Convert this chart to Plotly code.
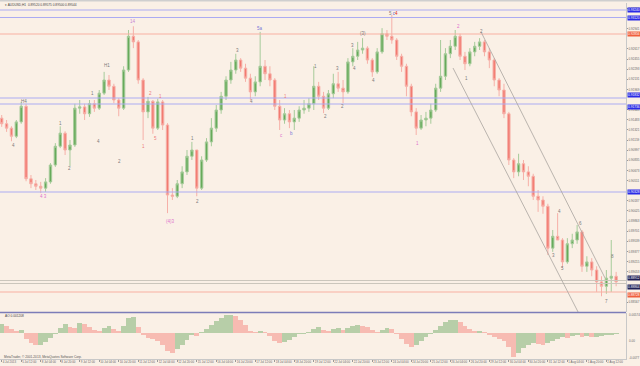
import plotly.graph_objects as go

# ---------------- data ----------------
# 4-hour bars, x = trading-hour index counted from 4 Jul 2013 20:00 (weekends skipped)
bar_hour = list(range(0, 508, 4))

bar_open = [0.9151,0.9142,0.9135,0.9122,0.9145,0.9170,0.9054,0.9046,0.9042,0.9039,
 0.9049,0.9076,0.9106,0.9127,0.9100,0.9108,0.9167,0.9169,0.9158,0.9174,
 0.9167,0.9191,0.9212,0.9202,0.9180,0.9167,0.9228,0.9282,0.9273,0.9212,
 0.9161,0.9178,0.9135,0.9177,0.9140,0.9028,0.9026,0.9046,0.9065,0.9090,
 0.9100,0.9039,0.9084,0.9113,0.9135,0.9164,0.9186,0.9212,0.9228,0.9244,
 0.9231,0.9215,0.9193,0.9209,0.9234,0.9222,0.9212,0.9170,0.9148,0.9158,
 0.9145,0.9151,0.9164,0.9167,0.9174,0.9202,0.9186,0.9167,0.9190,0.9206,
 0.9199,0.9193,0.9241,0.9250,0.9260,0.9263,0.9244,0.9225,0.9257,0.9286,
 0.9282,0.9276,0.9250,0.9234,0.9202,0.9161,0.9135,0.9148,0.9151,0.9164,
 0.9199,0.9218,0.9254,0.9266,0.9282,0.9250,0.9238,0.9257,0.9266,0.9273,
 0.9257,0.9244,0.9212,0.9196,0.9158,0.9084,0.9065,0.9078,0.9065,0.9058,
 0.9026,0.9020,0.9010,0.8943,0.8962,0.8956,0.8921,0.8950,0.8956,0.8969,
 0.8914,0.8921,0.8908,0.8889,0.8882,0.8895,0.8898]

bar_high = [0.9156,0.9148,0.9138,0.9148,0.9177,0.9174,0.9060,0.9052,0.9049,0.9055,
 0.9079,0.9111,0.9138,0.9130,0.9116,0.9174,0.9180,0.9174,0.9180,0.9180,
 0.9196,0.9225,0.9220,0.9206,0.9183,0.9234,0.9292,0.9298,0.9276,0.9215,
 0.9185,0.9180,0.9182,0.9180,0.9143,0.9039,0.9052,0.9074,0.9100,0.9113,
 0.9100,0.9090,0.9119,0.9151,0.9172,0.9193,0.9218,0.9241,0.9254,0.9247,
 0.9238,0.9222,0.9218,0.9289,0.9244,0.9234,0.9215,0.9180,0.9167,0.9164,
 0.9164,0.9170,0.9180,0.9183,0.9234,0.9209,0.9193,0.9196,0.9222,0.9225,
 0.9212,0.9247,0.9263,0.9273,0.9279,0.9266,0.9247,0.9263,0.9295,0.9292,
 0.9316,0.9279,0.9254,0.9238,0.9206,0.9167,0.9156,0.9161,0.9174,0.9206,
 0.9276,0.9263,0.9276,0.9292,0.9286,0.9257,0.9263,0.9273,0.9279,0.9276,
 0.9263,0.9247,0.9215,0.9206,0.9161,0.9087,0.9094,0.9084,0.9074,0.9062,
 0.9036,0.9026,0.9014,0.8972,0.8999,0.8959,0.8959,0.8966,0.8980,0.8972,
 0.8930,0.8927,0.8914,0.8898,0.8908,0.8956,0.8905]

bar_low = [0.9137,0.9129,0.9114,0.9119,0.9142,0.9050,0.9039,0.9036,0.9031,0.9033,
 0.9046,0.9073,0.9103,0.9092,0.9074,0.9105,0.9158,0.9148,0.9153,0.9161,
 0.9164,0.9188,0.9196,0.9175,0.9154,0.9164,0.9225,0.9263,0.9206,0.9116,
 0.9151,0.9126,0.9132,0.9132,0.8999,0.9020,0.9023,0.9039,0.9060,0.9084,
 0.9026,0.9036,0.9081,0.9106,0.9129,0.9158,0.9180,0.9206,0.9222,0.9225,
 0.9209,0.9180,0.9186,0.9202,0.9212,0.9202,0.9164,0.9132,0.9142,0.9135,
 0.9132,0.9145,0.9158,0.9161,0.9164,0.9180,0.9159,0.9164,0.9183,0.9193,
 0.9175,0.9190,0.9234,0.9244,0.9254,0.9238,0.9217,0.9222,0.9254,0.9276,
 0.9270,0.9244,0.9225,0.9186,0.9154,0.9124,0.9132,0.9138,0.9142,0.9161,
 0.9193,0.9212,0.9247,0.9260,0.9244,0.9228,0.9234,0.9250,0.9260,0.9250,
 0.9231,0.9202,0.9186,0.9151,0.9076,0.9055,0.9058,0.9052,0.9042,0.9020,
 0.9001,0.8998,0.8932,0.8937,0.8956,0.8911,0.8918,0.8943,0.8950,0.8905,
 0.8905,0.8898,0.8873,0.8866,0.8870,0.8873,0.8882]

bar_close = [0.9142,0.9135,0.9122,0.9145,0.9170,0.9054,0.9046,0.9042,0.9039,0.9049,
 0.9076,0.9106,0.9127,0.9100,0.9108,0.9167,0.9169,0.9158,0.9174,0.9167,
 0.9191,0.9212,0.9202,0.9180,0.9167,0.9228,0.9282,0.9273,0.9212,0.9161,
 0.9178,0.9135,0.9177,0.9140,0.9028,0.9026,0.9046,0.9065,0.9090,0.9100,
 0.9039,0.9084,0.9113,0.9135,0.9164,0.9186,0.9212,0.9228,0.9244,0.9231,
 0.9215,0.9193,0.9209,0.9234,0.9222,0.9212,0.9170,0.9148,0.9158,0.9145,
 0.9151,0.9164,0.9167,0.9174,0.9202,0.9186,0.9167,0.9190,0.9206,0.9199,
 0.9193,0.9241,0.9250,0.9260,0.9263,0.9244,0.9225,0.9257,0.9286,0.9282,
 0.9276,0.9250,0.9234,0.9202,0.9161,0.9135,0.9148,0.9151,0.9164,0.9199,
 0.9218,0.9254,0.9266,0.9282,0.9250,0.9238,0.9257,0.9266,0.9273,0.9257,
 0.9244,0.9212,0.9196,0.9158,0.9084,0.9065,0.9078,0.9065,0.9058,0.9026,
 0.9020,0.9010,0.8943,0.8962,0.8956,0.8921,0.8950,0.8956,0.8969,0.8914,
 0.8921,0.8908,0.8889,0.8882,0.8895,0.8898,0.8889]

# Awesome Oscillator values
ao_values = [0.0027,0.0021,0.0012,0.0006,0.0009,-0.0018,-0.0030,-0.0036,-0.0036,-0.0027,
 -0.0015,-0.0003,0.0015,0.0027,0.0018,0.0015,0.0030,0.0027,0.0018,0.0009,
 0.0006,0.0015,0.0021,0.0012,0.0006,0.0021,0.0045,0.0048,0.0018,-0.0006,
 -0.0015,-0.0018,-0.0024,-0.0036,-0.0054,-0.0060,-0.0048,-0.0036,-0.0021,-0.0006,
 -0.0009,0.0003,0.0012,0.0024,0.0036,0.0045,0.0054,0.0054,0.0051,0.0039,
 0.0024,0.0006,0.0003,0.0006,0.0003,-0.0009,-0.0024,-0.0030,-0.0027,-0.0021,
 -0.0012,-0.0003,-0.0003,0.0003,0.0012,0.0018,0.0009,0.0006,0.0012,0.0015,
 0.0009,0.0015,0.0021,0.0024,0.0021,0.0018,0.0009,0.0003,0.0009,0.0015,
 0.0012,-0.0003,-0.0018,-0.0033,-0.0042,-0.0036,-0.0024,-0.0012,-0.0003,0.0009,
 0.0021,0.0033,0.0039,0.0039,0.0033,0.0021,0.0012,0.0006,0.0006,0.0003,
 -0.0006,-0.0012,-0.0018,-0.0024,-0.0042,-0.0072,-0.0060,-0.0045,-0.0036,-0.0030,
 -0.0033,-0.0036,-0.0030,-0.0024,-0.0018,-0.0012,-0.0015,-0.0009,-0.0006,-0.0012,
 -0.0009,-0.0012,-0.0012,-0.0009,-0.0006,-0.0006,-0.0003]

# time axis labels (every 16 H1 bars)
time_tick_hours = list(range(0, 512, 16))
time_tick_labels = ["4 Jul 2013","5 Jul 12:00","8 Jul 04:00","8 Jul 20:00","9 Jul 12:00",
 "10 Jul 04:00","10 Jul 20:00","11 Jul 12:00","12 Jul 04:00","12 Jul 20:00","15 Jul 12:00",
 "16 Jul 04:00","16 Jul 20:00","17 Jul 12:00","18 Jul 04:00","18 Jul 20:00","19 Jul 12:00",
 "22 Jul 04:00","22 Jul 20:00","23 Jul 12:00","24 Jul 04:00","24 Jul 20:00","25 Jul 12:00",
 "26 Jul 04:00","26 Jul 20:00","29 Jul 12:00","30 Jul 04:00","30 Jul 20:00","31 Jul 12:00",
 "1 Aug 04:00","1 Aug 20:00","2 Aug 12:00"]

# price scale labels (those hidden behind level tags are left out)
price_ticks = [0.93265,0.92941,0.92617,0.92455,0.92293,0.92131,0.91969,
 0.91645,0.91483,0.91321,0.91159,0.90997,0.90835,0.90673,0.90511,0.90187,
 0.90025,0.89863,0.89701,0.89539,0.89377,0.89215,0.89053,0.88567,0.88405]

# AO scale labels
ao_scale_text = ["0.00574", "0.00", "-0.0077"]
ao_scale_pos = [0.125, 0.0506, 0.003]

# horizontal price levels
level_prices = [0.93240, 0.93120, 0.92856, 0.91832, 0.91736, 0.90328, 0.88912, 0.88864, 0.88728]
level_kinds  = ["blue", "blue", "red", "blue", "blue", "blue", "gray", "gray", "red"]
level_anchor = ["middle", "middle", "middle", "bottom", "top", "middle", "bottom", "top", "top"]

# channel (trend) lines: (hour, price) end points
channel_upper = [(393.2, 0.92888), (494.9, 0.88952)]
channel_lower = [(370.2, 0.92312), (472.8, 0.88408)]

# wave labels
wave_text = ["4","H4","4 3","1","2","1","H1","4","2","14","2","1","1","5","(4)3","1","2",
             "3","4","5a","1","c","b","1","2","3","2","3","4","(3)","4","5 c4",
             "1","2","1","2","3","4","5","6","7","8"]
wave_hour = [9.3,18.3,33.9,48.6,55.2,74.1,86.4,79.8,97.0,107.7,121.7,129.9,116.7,125.8,138.1,156.1,161.0,
             193.8,205.3,211.9,232.4,229.1,238.1,257.8,266.0,275.1,279.2,287.4,289.0,296.4,304.6,321.0,
             340.7,374.3,380.9,393.2,452.3,457.2,460.4,474.4,495.7,500.7]
wave_price = [0.9108,0.9178,0.9025,0.9142,0.9070,0.9191,0.9236,0.9113,0.9081,0.9305,0.9191,0.9186,0.9105,0.9119,0.8985,0.9118,0.9018,
              0.9260,0.9178,0.9295,0.9185,0.9124,0.9126,0.9234,0.9154,0.9231,0.9170,0.9268,0.9231,0.9287,0.9212,0.9319,
              0.9111,0.9298,0.9214,0.9289,0.8932,0.9002,0.8910,0.8983,0.8857,0.8930]
wave_kind = ["g","g","p","g","g","g","g","g","g","v","r","r","r","r","p","g","g",
             "g","g","b","r","p","b","g","g","g","g","g","g","g","g","m",
             "p","p","g","g","g","g","g","g","g","g"]

# ---------------- style ----------------
BG = "#FAF0E6"
FONT = "Liberation Sans"
kind_color = {"g": "#7A7A7A", "p": "#E070CC", "r": "#EC7A7A", "b": "#7878D8", "v": "#C884D4", "m": "#7A7A7A"}
level_color = {"blue": "#ABABF2", "red": "#F7B0A2", "gray": "#CBC6BC"}
level_box = {"blue": "#2B2BE6", "red": "#F0603E", "gray": "#202058"}

MAIN_BOTTOM = 0.132
AO_TOP = 0.1292

fig = go.Figure()
fig.add_trace(go.Candlestick(
    x=bar_hour, open=bar_open, high=bar_high, low=bar_low, close=bar_close,
    xaxis="x", yaxis="y", whiskerwidth=0, showlegend=False, hoverinfo="skip",
    increasing=dict(line=dict(color="#A6CB9A", width=1), fillcolor="#66AA5A"),
    decreasing=dict(line=dict(color="#F6B0A8", width=1), fillcolor="#F27A70"),
))

ao_colors = []
prev = None
for v in ao_values:
    up = prev is None or v >= prev
    ao_colors.append("#B7CEA8" if up else "#F7BBB2")
    prev = v
fig.add_trace(go.Bar(x=bar_hour, y=ao_values, xaxis="x2", yaxis="y2", width=4,
                     marker=dict(color=ao_colors, line=dict(width=0)),
                     showlegend=False, hoverinfo="skip"))

shapes = []
for p, k in zip(level_prices, level_kinds):
    shapes.append(dict(type="line", xref="paper", x0=0, x1=1, yref="y", y0=p, y1=p,
                       line=dict(color=level_color[k], width=1.2)))
for seg in (channel_upper, channel_lower):
    shapes.append(dict(type="line", xref="x", yref="y", x0=seg[0][0], y0=seg[0][1],
                       x1=seg[1][0], y1=seg[1][1], line=dict(color="#A9A5A0", width=0.8)))
# panel separator, top border
shapes.append(dict(type="line", xref="paper", yref="paper", x0=0, x1=1, y0=0.1305, y1=0.1305,
                   line=dict(color="#7C7CB8", width=1.6)))
shapes.append(dict(type="line", xref="paper", yref="paper", x0=0, x1=1.03, y0=1.006, y1=1.006,
                   line=dict(color="#CFCFCF", width=1.5)))

ann = []
for p, k, a in zip(level_prices, level_kinds, level_anchor):
    ann.append(dict(xref="paper", x=1, xanchor="left", xshift=0.5, yref="y", y=p, yanchor=a,
                    text=f"{p:.5f}", showarrow=False, bgcolor=level_box[k], borderpad=0,
                    font=dict(size=3.2, color="white", family=FONT)))
for t, h, p, k in zip(wave_text, wave_hour, wave_price, wave_kind):
    if k == "m":
        txt = "<span style='color:#7A7A7A'>5 </span><span style='color:#6060D8'>c</span><span style='color:#E02020'>4</span>"
    else:
        txt = t
    ann.append(dict(xref="x", yref="y", x=h, y=p, text=txt, showarrow=False,
                    font=dict(size=4.5, color=kind_color[k], family=FONT)))
ann.append(dict(xref="paper", yref="paper", x=0.005, y=0.9944, xanchor="left", yanchor="middle",
                text="▾ AUDUSD,H1  0.89520 0.89575 0.89500 0.89544", showarrow=False,
                font=dict(size=3.2, color="#444", family=FONT)))
ann.append(dict(xref="paper", yref="paper", x=0.004, y=0.1208, xanchor="left", yanchor="middle",
                text="AO 0.001208", showarrow=False, font=dict(size=3.2, color="#444", family=FONT)))
ann.append(dict(xref="paper", yref="paper", x=0.003, y=0.0056, xanchor="left", yanchor="middle",
                text="MetaTrader, © 2001-2013, MetaQuotes Software Corp.", showarrow=False,
                font=dict(size=3.2, color="#555", family=FONT)))
for txt, yy in zip(ao_scale_text, ao_scale_pos):
    ann.append(dict(xref="paper", yref="paper", x=1, xanchor="left", xshift=1, y=yy, yanchor="middle",
                    text=txt, showarrow=False, font=dict(size=3.0, color="#666", family=FONT)))

fig.update_layout(
    width=640, height=366, margin=dict(l=0, r=14, t=3, b=7, autoexpand=False),
    paper_bgcolor=BG, plot_bgcolor=BG, showlegend=False, bargap=0,
    font=dict(family=FONT, size=3.2, color="#666"),
    shapes=shapes, annotations=ann,
    xaxis=dict(domain=[0, 1], range=[-1.4, 512.1], anchor="y", showticklabels=False,
               showgrid=False, zeroline=False, rangeslider=dict(visible=False), fixedrange=True,
               automargin=False),
    xaxis2=dict(domain=[0, 1], range=[-1.4, 512.1], anchor="y2", tickvals=time_tick_hours,
                ticktext=time_tick_labels, tickfont=dict(size=2.9, color="#666"), ticks="outside",
                ticklen=1.5, tickcolor="#999", ticklabelposition="outside right", tickangle=0,
                showline=True, linecolor="#C8C8C8", showgrid=False, zeroline=False, automargin=False),
    yaxis=dict(domain=[MAIN_BOTTOM, 1], range=[0.88408, 0.93352], anchor="x", side="right",
               tickvals=price_ticks, ticktext=[f"{v:.5f}" for v in price_ticks],
               tickfont=dict(size=3.0, color="#666"), ticks="outside", ticklen=1, tickcolor="#999",
               showline=True, linecolor="#C8C8C8", showgrid=False, zeroline=False, automargin=False),
    yaxis2=dict(domain=[0, AO_TOP], range=[-0.0078, 0.0060], anchor="x2", side="right",
                showticklabels=False, showline=True, linecolor="#C8C8C8", showgrid=False,
                zeroline=False, automargin=False),
)

# remove the browser's default page margin so the 640x366 figure fills the window
fig.write_html("out.html", config={"displayModeBar": False},
               post_script="document.body.style.margin='0';document.body.style.background='#FAF0E6';")
